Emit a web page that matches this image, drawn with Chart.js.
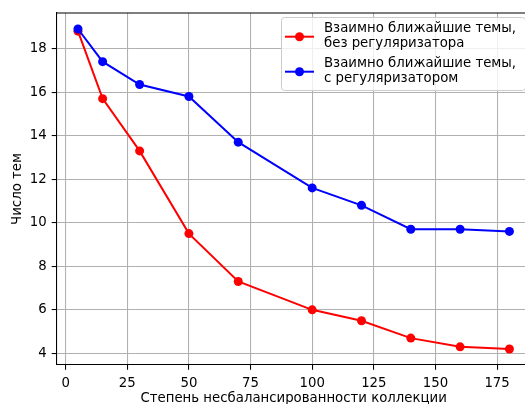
<!DOCTYPE html>
<html>
<head>
<meta charset="utf-8">
<script src="https://cdn.jsdelivr.net/npm/chart.js@4"></script>
<style>
  html, body { margin: 0; padding: 0; background: #fff; overflow: hidden; }
</style>
</head>
<body>
<canvas id="chart" width="540" height="404"></canvas>
<script>
"use strict";

// ---------- Data ----------

const imbalance = [5, 15, 30, 50, 70, 100, 120, 140, 160, 180];
const noRegularizer = [18.8, 15.7, 13.3, 9.5, 7.3, 6.0, 5.5, 4.7, 4.3, 4.2];
const withRegularizer = [18.9, 17.4, 16.35, 15.8, 13.7, 11.6, 10.8, 9.7, 9.7, 9.6];

const xTicks = [0, 25, 50, 75, 100, 125, 150, 175];
const yTicks = [4, 6, 8, 10, 12, 14, 16, 18];

const FONT = "'DejaVu Sans', sans-serif";
const FONT_SIZE = 13.3;

// ---------- Plugins ----------

// top + right spines (matplotlib draws a full box)
const framePlugin = {
    id: "frame",
    afterDraw(chart) {
        const { ctx, chartArea: a } = chart;
        ctx.save();
        ctx.strokeStyle = "#000";
        ctx.lineWidth = 1.07;
        ctx.beginPath();
        ctx.moveTo(a.left, a.top);
        ctx.lineTo(a.right, a.top);
        ctx.lineTo(a.right, a.bottom);
        ctx.stroke();
        ctx.restore();
    },
};

// legend with two-line labels, like the matplotlib one
const legendPlugin = {
    id: "mplLegend",
    afterDraw(chart) {
        const { ctx } = chart;
        const box = { x: 281, y: 17, w: 244, h: 73 };
        ctx.save();
        ctx.fillStyle = "rgba(255,255,255,0.8)";
        ctx.strokeStyle = "#cccccc";
        ctx.lineWidth = 1;
        ctx.beginPath();
        ctx.roundRect(box.x + 0.5, box.y + 0.5, box.w, box.h, 3);
        ctx.fill();
        ctx.stroke();

        ctx.font = `${FONT_SIZE}px ${FONT}`;
        ctx.textBaseline = "alphabetic";
        ctx.textAlign = "left";
        chart.data.datasets.forEach((ds, i) => {
            const base = 32.3 + i * 35;
            const my = 36.7 + i * 35;
            ctx.strokeStyle = ds.borderColor;
            ctx.lineWidth = 2;
            ctx.beginPath();
            ctx.moveTo(285, my);
            ctx.lineTo(314, my);
            ctx.stroke();
            ctx.fillStyle = ds.borderColor;
            ctx.beginPath();
            ctx.arc(299.5, my, 4.5, 0, Math.PI * 2);
            ctx.fill();
            ctx.fillStyle = "#000";
            ds.label.split("\n").forEach((line, j) => {
                ctx.fillText(line, 324, base + j * 15);
            });
        });
        ctx.restore();
    },
};

// ---------- Chart ----------

function series(values) {
    return values.map((y, i) => ({ x: imbalance[i], y }));
}

const tickFont = { family: FONT, size: FONT_SIZE };
const gridStyle = { color: "#b0b0b0", lineWidth: 1.07, tickColor: "#000", tickLength: 4.7, tickWidth: 1.07 };

new Chart(document.getElementById("chart"), {
    type: "line",
    data: {
        datasets: [
            {
                label: "Взаимно ближайшие темы,\nбез регуляризатора",
                data: series(noRegularizer),
                borderColor: "#ff0000",
                backgroundColor: "#ff0000",
                borderWidth: 2,
                pointRadius: 4.5,
                pointBorderWidth: 0,
                pointBackgroundColor: "#ff0000",
                tension: 0,
                order: 1,
            },
            {
                label: "Взаимно ближайшие темы,\nс регуляризатором",
                data: series(withRegularizer),
                borderColor: "#0000ff",
                backgroundColor: "#0000ff",
                borderWidth: 2,
                pointRadius: 4.5,
                pointBorderWidth: 0,
                pointBackgroundColor: "#0000ff",
                tension: 0,
                order: 0,
            },
        ],
    },
    options: {
        responsive: false,
        animation: false,
        events: [],
        layout: { padding: { top: 10.7, right: 9, left: 0, bottom: 0 } },
        plugins: {
            legend: { display: false },
            tooltip: { enabled: false },
        },
        scales: {
            x: {
                type: "linear",
                min: -3.75,
                max: 188.75,
                afterBuildTicks: (s) => { s.ticks = xTicks.map((v) => ({ value: v })); },
                afterFit: (s) => { s.height = 39; },
                grid: gridStyle,
                border: { color: "#000", width: 1.07 },
                ticks: { color: "#000", font: tickFont, padding: 5.5, maxRotation: 0 },
                title: {
                    display: true,
                    text: "Степень несбалансированности коллекции",
                    color: "#000",
                    font: tickFont,
                    padding: { top: 0, bottom: -2.5 },
                },
            },
            y: {
                type: "linear",
                min: 3.465,
                max: 19.635,
                afterBuildTicks: (s) => { s.ticks = yTicks.map((v) => ({ value: v })); },
                afterFit: (s) => { s.width = 56.4; },
                grid: gridStyle,
                border: { color: "#000", width: 1.07 },
                ticks: { color: "#000", font: tickFont, padding: 5 },
                title: {
                    display: true,
                    text: "Число тем",
                    color: "#000",
                    font: tickFont,
                    padding: { top: 9.5, bottom: 0 },
                },
            },
        },
    },
    plugins: [framePlugin, legendPlugin],
});
</script>
</body>
</html>
